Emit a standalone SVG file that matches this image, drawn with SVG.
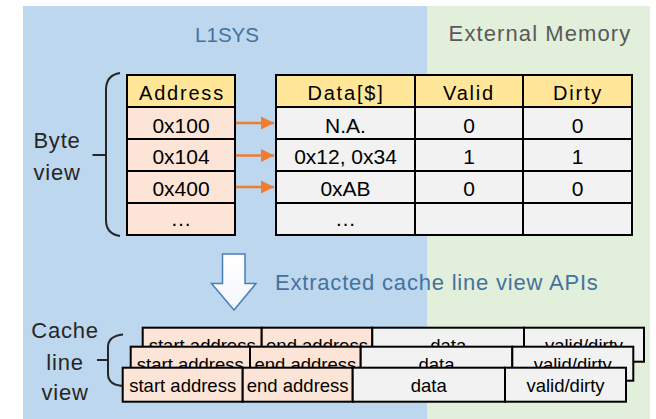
<svg xmlns="http://www.w3.org/2000/svg" width="656" height="419" viewBox="0 0 656 419">
  <defs>
    <style>
      .t { font-family: "Liberation Sans", Arial, sans-serif; fill: #000; text-anchor: middle; }
      .hd { font-size: 20px; letter-spacing: 1.8px; }
      .cell { font-size: 21px; }
      .cl { font-size: 18.5px; }
      .lbl { font-family: "Liberation Sans", Arial, sans-serif; font-size: 22px; fill: #262626; text-anchor: middle; letter-spacing: 0.8px; }
      .hdrFill { fill: #FFE699; }
      .addrFill { fill: #FCE4D6; }
      .dataFill { fill: #F2F2F2; }
      .box { stroke: #000; stroke-width: 2; }
      .brace { fill: none; stroke: #262626; stroke-width: 2; }
      .conn { stroke: #ED7D31; stroke-width: 2.5; fill: none; }
    </style>
    <marker id="arrowHead" viewBox="0 0 10 10" refX="10" refY="5" markerWidth="5.4" markerHeight="5.4" markerUnits="strokeWidth" orient="auto">
      <path d="M0,0 L10,5 L0,10 Z" fill="#ED7D31"/>
    </marker>
    <linearGradient id="downFill" x1="0" y1="0" x2="0" y2="1">
      <stop offset="0" stop-color="#FFFFFF"/>
      <stop offset="1" stop-color="#F4F8FC"/>
    </linearGradient>
  </defs>

  <!-- Background regions -->
  <g id="regions">
    <rect x="23" y="6" width="404" height="413" fill="#BDD7EE"/>
    <rect x="427" y="6" width="223" height="413" fill="#E2EFDA"/>
  </g>

  <!-- Region titles -->
  <g id="titles">
    <text x="227" y="41.5" font-family="Liberation Sans, Arial, sans-serif" font-size="20.5" fill="#44729F" text-anchor="middle">L1SYS</text>
    <text x="540" y="41" font-family="Liberation Sans, Arial, sans-serif" font-size="22" fill="#595959" text-anchor="middle" letter-spacing="1.1">External Memory</text>
  </g>

  <!-- Byte view label and brace -->
  <g id="byte-view-label">
    <text class="lbl" x="57" y="147.5" letter-spacing="1">Byte</text>
    <text class="lbl" x="57" y="180" letter-spacing="1">view</text>
    <path class="brace" d="M120,73 Q106,75 106,90 L106,220 Q106,234 120,236"/>
    <path class="brace" d="M92.5,155 L106,155"/>
  </g>

  <!-- Address table -->
  <g id="address-table">
    <rect class="hdrFill box" x="127" y="75" width="108" height="32"/>
    <rect class="addrFill box" x="127" y="107" width="108" height="32"/>
    <rect class="addrFill box" x="127" y="139" width="108" height="32"/>
    <rect class="addrFill box" x="127" y="171" width="108" height="32"/>
    <rect class="addrFill box" x="127" y="203" width="108" height="32"/>
    <text class="t hd" x="182" y="100">Address</text>
    <text class="t cell" x="181" y="132.5">0x100</text>
    <text class="t cell" x="181" y="164">0x104</text>
    <text class="t cell" x="181" y="195.5">0x400</text>
    <text class="t cell" x="181" y="226">…</text>
  </g>

  <!-- Data table -->
  <g id="data-table">
    <rect class="hdrFill box" x="276" y="75" width="356" height="32"/>
    <rect class="dataFill box" x="276" y="107" width="356" height="32"/>
    <rect class="dataFill box" x="276" y="139" width="356" height="32"/>
    <rect class="dataFill box" x="276" y="171" width="356" height="32"/>
    <rect class="dataFill box" x="276" y="203" width="356" height="32"/>
    <path class="box" d="M415,75 V235 M523,75 V235" fill="none"/>
    <text class="t hd" x="346" y="100">Data[$]</text>
    <text class="t hd" x="469" y="100">Valid</text>
    <text class="t hd" x="578" y="100">Dirty</text>
    <text class="t cell" x="345.5" y="132.5">N.A.</text>
    <text class="t cell" x="469" y="132.5">0</text>
    <text class="t cell" x="577.5" y="132.5">0</text>
    <text class="t cell" x="345.5" y="164">0x12, 0x34</text>
    <text class="t cell" x="469" y="164">1</text>
    <text class="t cell" x="577.5" y="164">1</text>
    <text class="t cell" x="345.5" y="195.5">0xAB</text>
    <text class="t cell" x="469" y="195.5">0</text>
    <text class="t cell" x="577.5" y="195.5">0</text>
    <text class="t cell" x="345.5" y="226">…</text>
  </g>

  <!-- Address-to-entry connectors -->
  <g id="connectors">
    <line class="conn" x1="236" y1="123" x2="274" y2="123" marker-end="url(#arrowHead)"/>
    <line class="conn" x1="236" y1="155.5" x2="274" y2="155.5" marker-end="url(#arrowHead)"/>
    <line class="conn" x1="236" y1="187" x2="274" y2="187" marker-end="url(#arrowHead)"/>
  </g>

  <!-- Extraction step -->
  <g id="extract-step">
    <path d="M222.5,254 H245 V283.5 H256 L234,310 L211.5,283.5 H222.5 Z" fill="url(#downFill)" stroke="#4A7EBB" stroke-width="1.5" stroke-linejoin="miter"/>
    <text x="275" y="289.5" font-family="Liberation Sans, Arial, sans-serif" font-size="22" fill="#44729F" letter-spacing="0.8">Extracted cache line view APIs</text>
  </g>

  <!-- Cache line view label and brace -->
  <g id="cache-line-label">
    <text class="lbl" x="65" y="338" letter-spacing="0.3">Cache</text>
    <text class="lbl" x="65" y="369.5" letter-spacing="0.3">line</text>
    <text class="lbl" x="65" y="400" letter-spacing="0.3">view</text>
    <path class="brace" d="M123,334.5 Q108,336 108,347 L108,374 Q108,385 123,386"/>
    <path class="brace" d="M97,360 L108,360"/>
  </g>

  <!-- Cache lines, back to front -->
  <g id="cache-line-1">
    <rect class="addrFill box" x="142.7" y="327.7" width="119" height="34"/>
    <rect class="addrFill box" x="261.7" y="327.7" width="110.6" height="34"/>
    <rect class="dataFill box" x="372.3" y="327.7" width="151.7" height="34"/>
    <rect class="dataFill box" x="524" y="327.7" width="120" height="34"/>
    <text class="t cl" x="202.2" y="351.7">start address</text>
    <text class="t cl" x="317" y="351.7">end address</text>
    <text class="t cl" x="448.2" y="351.7">data</text>
    <text class="t cl" x="584" y="351.7">valid/dirty</text>
  </g>
  <g id="cache-line-2">
    <rect class="addrFill box" x="130.7" y="346.7" width="119.3" height="34"/>
    <rect class="addrFill box" x="250" y="346.7" width="110.7" height="34"/>
    <rect class="dataFill box" x="360.7" y="346.7" width="151.6" height="34"/>
    <rect class="dataFill box" x="512.3" y="346.7" width="121" height="34"/>
    <text class="t cl" x="190.3" y="370.7">start address</text>
    <text class="t cl" x="305.3" y="370.7">end address</text>
    <text class="t cl" x="436.5" y="370.7">data</text>
    <text class="t cl" x="572.8" y="370.7">valid/dirty</text>
  </g>
  <g id="cache-line-3">
    <rect class="addrFill box" x="122.7" y="367.7" width="120" height="34"/>
    <rect class="addrFill box" x="242.7" y="367.7" width="110" height="34"/>
    <rect class="dataFill box" x="352.7" y="367.7" width="152.3" height="34"/>
    <rect class="dataFill box" x="505" y="367.7" width="121" height="34"/>
    <text class="t cl" x="182.7" y="391.7">start address</text>
    <text class="t cl" x="297.7" y="391.7">end address</text>
    <text class="t cl" x="428.8" y="391.7">data</text>
    <text class="t cl" x="565.5" y="391.7">valid/dirty</text>
  </g>
</svg>
